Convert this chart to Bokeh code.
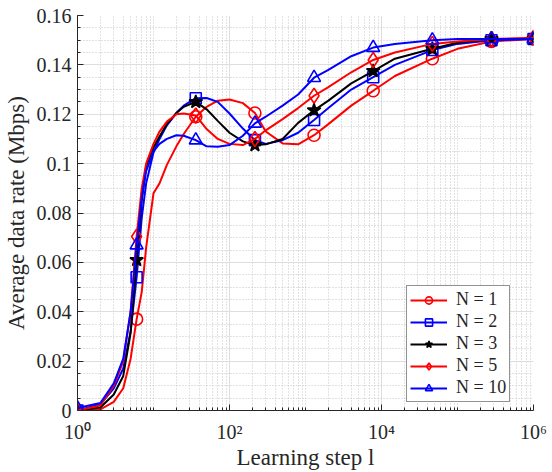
from bokeh.plotting import figure
from bokeh.models import FixedTicker, NumeralTickFormatter, Legend, LegendItem, Range1d
from bokeh.embed import file_html
from bokeh.resources import INLINE

# Learning steps at which the curves were read
l_steps = [1, 2, 3, 4, 5, 6, 7, 8, 10, 12, 15, 20, 25, 36, 50, 70, 100, 150, 216,
           300, 500, 800, 1296, 2000, 4000, 7776, 15000, 46656, 100000, 279936, 1000000]
# Steps carrying a marker
marker_steps = [1, 6, 36, 216, 1296, 7776, 46656, 279936, 1000000]

rate_n1 = [0.0, 0.0005, 0.0035, 0.009, 0.021, 0.037, 0.048, 0.066, 0.088, 0.092, 0.0995,
           0.107, 0.112, 0.119, 0.123, 0.1255, 0.126, 0.1245, 0.1205, 0.113, 0.1082, 0.1078,
           0.1115, 0.116, 0.1235, 0.1295, 0.1355, 0.1425, 0.1465, 0.1495, 0.1505]
rate_n2 = [0.0, 0.0025, 0.009, 0.017, 0.032, 0.054, 0.078, 0.092, 0.1045, 0.110, 0.1155,
           0.1205, 0.1235, 0.1265, 0.1266, 0.125, 0.1203, 0.1142, 0.1095, 0.108, 0.1095,
           0.1125, 0.1177, 0.1225, 0.130, 0.135, 0.140, 0.146, 0.1485, 0.150, 0.1505]
rate_n3 = [0.0, 0.0012, 0.0065, 0.014, 0.0315, 0.061, 0.085, 0.099, 0.1065, 0.111, 0.116,
           0.1205, 0.123, 0.125, 0.122, 0.1173, 0.1125, 0.109, 0.1075, 0.1078, 0.110, 0.1165,
           0.1216, 0.1255, 0.1325, 0.1375, 0.1425, 0.1465, 0.149, 0.1505, 0.1505]
rate_n5 = [0.0, 0.002, 0.010, 0.020, 0.040, 0.0705, 0.090, 0.100, 0.108, 0.113, 0.117,
           0.120, 0.1203, 0.1195, 0.114, 0.110, 0.108, 0.1075, 0.110, 0.1135, 0.118, 0.1225,
           0.1275, 0.131, 0.137, 0.142, 0.145, 0.1485, 0.1495, 0.1505, 0.151]
rate_n10 = [0.001, 0.003, 0.011, 0.021, 0.040, 0.067, 0.086, 0.097, 0.105, 0.108, 0.110,
            0.1115, 0.1113, 0.1095, 0.107, 0.1068, 0.1075, 0.1113, 0.1163, 0.119, 0.1235,
            0.128, 0.1348, 0.138, 0.1435, 0.147, 0.1485, 0.150, 0.1505, 0.1505, 0.1505]

series_labels = ["N = 1", "N = 2", "N = 3", "N = 5", "N = 10"]
series_values = [rate_n1, rate_n2, rate_n3, rate_n5, rate_n10]
series_colors = ["#ff0000", "#0000ff", "#000000", "#ff0000", "#0000ff"]
series_markers = ["circle", "square", "star", "diamond", "triangle"]
marker_sizes = [12, 11, 14, 15, 13]
marker_fills = [None, None, "#000000", None, None]

x_major = [1, 100, 10000, 1000000]
x_major_labels = ["10\u2070", "10\u00b2", "10\u2074", "10\u2076"]
y_major = [0.0, 0.02, 0.04, 0.06, 0.08, 0.10, 0.12, 0.14, 0.16]

FONT = "Liberation Serif"
AXIS_COLOR = "#262626"

p = figure(width=552, height=472, x_axis_type="log",
           x_range=Range1d(1, 1e6), y_range=Range1d(0, 0.16),
           output_backend="svg", toolbar_location=None,
           min_border_left=77, min_border_right=19, min_border_top=15, min_border_bottom=61)
p.outline_line_color = None
p.background_fill_color = "white"
p.border_fill_color = "white"

# x ticks
x_minor = [m * 10 ** k for k in range(6) for m in range(1, 10) if m * 10 ** k not in x_major]
p.xaxis.ticker = FixedTicker(ticks=x_major, minor_ticks=x_minor)
p.xaxis.major_label_overrides = dict(zip(x_major, x_major_labels))
p.xgrid.ticker = p.xaxis.ticker

# y ticks
y_minor = [i * 0.005 for i in range(33)]
p.yaxis.ticker = FixedTicker(ticks=y_major, minor_ticks=y_minor)
p.yaxis.formatter = NumeralTickFormatter(format="0.[00]")
p.ygrid.ticker = p.yaxis.ticker

for g in (p.xgrid, p.ygrid):
    g.grid_line_color = "#dedede"
    g.grid_line_width = 1
    g.minor_grid_line_color = "#c4c4c4"
    g.minor_grid_line_width = 1
    g.minor_grid_line_dash = "1 2"

for ax in (p.xaxis, p.yaxis):
    ax.axis_line_color = AXIS_COLOR
    ax.axis_line_width = 1
    ax.major_tick_line_color = AXIS_COLOR
    ax.minor_tick_line_color = AXIS_COLOR
    ax.major_tick_in = 6
    ax.major_tick_out = 0
    ax.minor_tick_in = 3
    ax.minor_tick_out = 0
    ax.major_label_text_font = FONT
    ax.major_label_text_font_size = "20px"
    ax.major_label_text_color = AXIS_COLOR
    ax.axis_label_text_font = FONT
    ax.axis_label_text_font_size = "23px"
    ax.axis_label_text_font_style = "normal"
    ax.axis_label_text_color = AXIS_COLOR

p.xaxis.axis_label = "Learning step l"
p.yaxis.axis_label = "Average data rate (Mbps)"
p.xaxis.major_label_standoff = 10
p.xaxis.axis_label_standoff = -1
p.yaxis.major_label_standoff = 6
p.yaxis.axis_label_standoff = 5

items = []
for label, vals, color, mk, ms, mf in zip(series_labels, series_values, series_colors,
                                          series_markers, marker_sizes, marker_fills):
    ln = p.line(l_steps, vals, line_color=color, line_width=2)
    mx = [s for s in l_steps if s in marker_steps]
    my = [v for s, v in zip(l_steps, vals) if s in marker_steps]
    sc = p.scatter(mx, my, marker=mk, size=ms, line_color=color, line_width=1.6,
                   fill_color=mf, fill_alpha=1 if mf else 0)
    items.append(LegendItem(label=label, renderers=[ln, sc]))

legend = Legend(items=items, location=(329, 8))
legend.border_line_color = AXIS_COLOR
legend.border_line_width = 1
legend.background_fill_color = "white"
legend.background_fill_alpha = 1
legend.label_text_font = FONT
legend.label_text_font_size = "18px"
legend.label_text_color = AXIS_COLOR
legend.glyph_width = 37
legend.glyph_height = 18
legend.label_height = 18
legend.spacing = 1
legend.padding = 3
legend.margin = 0
legend.label_standoff = 9
p.add_layout(legend)

open("out.html", "w").write(file_html(p, INLINE))
